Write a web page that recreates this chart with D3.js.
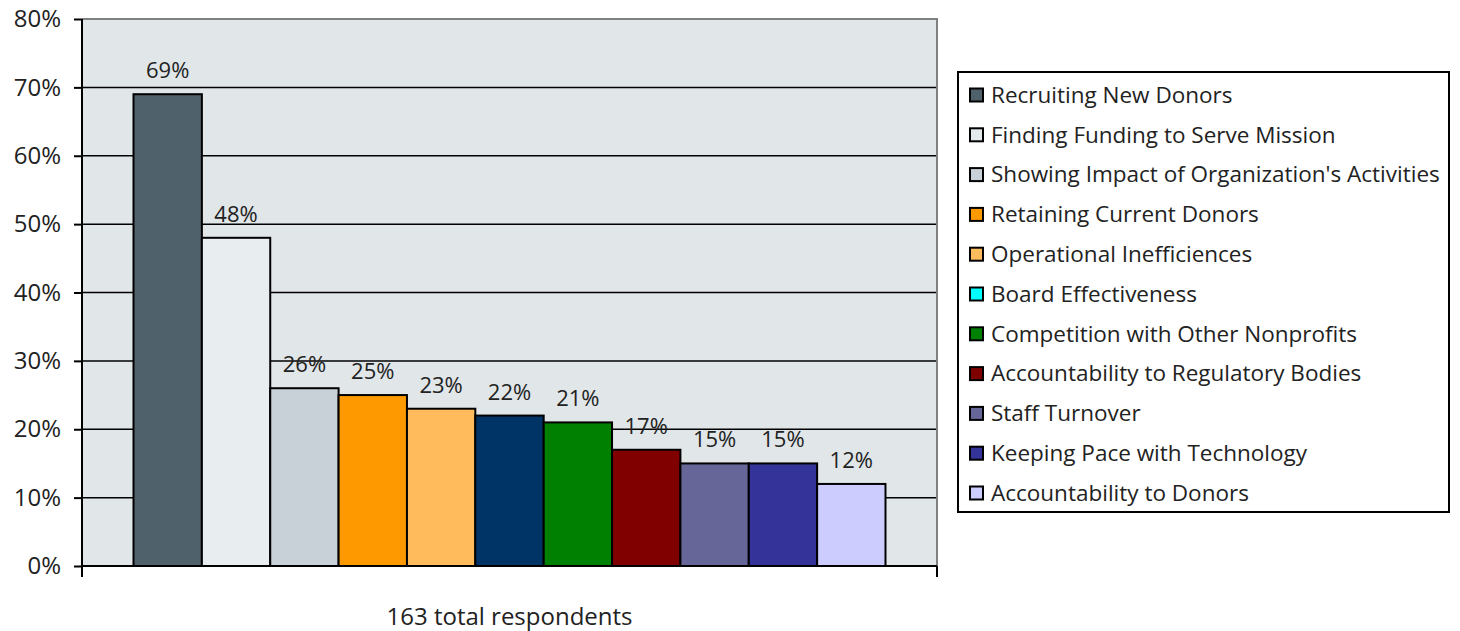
<!DOCTYPE html>
<html>
<head>
<meta charset="utf-8">
<script src="https://cdn.jsdelivr.net/npm/d3@7"></script>
<style>
  html, body { margin: 0; padding: 0; background: #ffffff; }
  svg { display: block; }
  text { font-family: "Open Sans", "Noto Sans", sans-serif; fill: #222; }
</style>
</head>
<body>
<svg id="chart" width="1460" height="631"></svg>
<script>
// Survey: biggest challenges reported by nonprofits
const category = "163 total respondents";
const challenges = [
  "Recruiting New Donors",
  "Finding Funding to Serve Mission",
  "Showing Impact of Organization's Activities",
  "Retaining Current Donors",
  "Operational Inefficiences",
  "Board Effectiveness",
  "Competition with Other Nonprofits",
  "Accountability to Regulatory Bodies",
  "Staff Turnover",
  "Keeping Pace with Technology",
  "Accountability to Donors"
];
const shares = [69, 48, 26, 25, 23, 22, 21, 17, 15, 15, 12];
const yTicks = [0, 10, 20, 30, 40, 50, 60, 70, 80];
const barColors = ["#4f616b", "#e8edf0", "#c9d1d8", "#ff9900", "#ffbb5c", "#003366",
                   "#008000", "#800000", "#666699", "#333399", "#ccccff"];
const legendColors = ["#4f616b", "#e4e9ec", "#c9d1d8", "#ff9900", "#ffbb5c", "#00ffff",
                      "#008000", "#800000", "#666699", "#333399", "#ccccff"];

const svg = d3.select("#chart");
const plot = { left: 82, right: 937, top: 19, bottom: 566 };
const font = "'Open Sans', 'Noto Sans', sans-serif";

const y = d3.scaleLinear().domain([0, 80]).range([plot.bottom, plot.top]);
const x0 = d3.scaleBand().domain([category]).range([plot.left, plot.right])
  .paddingInner(0).paddingOuter(0.0685);
const x1 = d3.scaleBand().domain(challenges).range([0, x0.bandwidth()]).padding(0);

// plot background
svg.append("rect")
  .attr("x", plot.left).attr("y", plot.top)
  .attr("width", plot.right - plot.left).attr("height", plot.bottom - plot.top)
  .attr("fill", "#e1e6e9");

// horizontal gridlines
svg.append("g").selectAll("line")
  .data(yTicks.filter(t => t > 0 && t < 80))
  .join("line")
  .attr("x1", plot.left).attr("x2", plot.right)
  .attr("y1", d => y(d)).attr("y2", d => y(d))
  .attr("stroke", "#000").attr("stroke-width", 1.5);

// top and right frame
svg.append("path")
  .attr("d", `M${plot.left},${y(80)}H${plot.right}V${plot.bottom}`)
  .attr("fill", "none").attr("stroke", "#808080").attr("stroke-width", 2);

// bars
const group = svg.append("g").attr("transform", `translate(${x0(category)},0)`);
group.selectAll("rect")
  .data(challenges.map((c, i) => ({ c, v: shares[i], i })))
  .join("rect")
  .attr("x", d => x1(d.c))
  .attr("y", d => y(d.v))
  .attr("width", x1.bandwidth())
  .attr("height", d => y(0) - y(d.v))
  .attr("fill", d => barColors[d.i])
  .attr("stroke", "#000").attr("stroke-width", 2);

// value labels
group.selectAll("text")
  .data(challenges.map((c, i) => ({ c, v: shares[i] })))
  .join("text")
  .attr("x", d => x1(d.c) + x1.bandwidth() / 2)
  .attr("y", d => y(d.v) - 16)
  .attr("text-anchor", "middle")
  .style("font-size", "22px")
  .text(d => d.v + "%");

// y axis
const yAxis = svg.append("g")
  .attr("transform", `translate(${plot.left},0)`)
  .call(d3.axisLeft(y).tickValues(yTicks).tickFormat(d => d + "%").tickSize(8).tickPadding(13));
yAxis.select(".domain").attr("stroke", "#000").attr("stroke-width", 2)
  .attr("d", `M0,${y(80)}V${plot.bottom + 11}`);
yAxis.selectAll(".tick line").attr("stroke", "#000").attr("stroke-width", 2);
yAxis.selectAll(".tick text").style("font-size", "24px").attr("fill", "#222")
  .style("font-family", font);

// x axis
const xAxis = svg.append("g")
  .attr("transform", `translate(0,${plot.bottom})`)
  .call(d3.axisBottom(x0).tickSize(0).tickPadding(42));
xAxis.select(".domain").attr("stroke", "#000").attr("stroke-width", 2)
  .attr("d", `M${plot.left},0H${plot.right}`);
xAxis.selectAll(".tick text").style("font-size", "24px").attr("fill", "#222")
  .style("font-family", font);
xAxis.selectAll(".edge")
  .data([plot.left, plot.right])
  .join("line").attr("class", "edge")
  .attr("x1", d => d).attr("x2", d => d)
  .attr("y1", 0).attr("y2", 11)
  .attr("stroke", "#000").attr("stroke-width", 2);

// legend
const legend = svg.append("g").attr("transform", "translate(958,72)");
legend.append("rect")
  .attr("width", 491).attr("height", 440)
  .attr("fill", "#fff").attr("stroke", "#000").attr("stroke-width", 2);
const items = legend.selectAll("g.item")
  .data(challenges.map((c, i) => ({ c, i })))
  .join("g").attr("class", "item")
  .attr("transform", d => `translate(11,${23 + d.i * 39.8})`);
items.append("rect")
  .attr("x", 1).attr("y", -6.5).attr("width", 13).attr("height", 13)
  .attr("fill", d => legendColors[d.i])
  .attr("stroke", "#000").attr("stroke-width", 2);
items.append("text")
  .attr("x", 22).attr("y", 0).attr("dy", "0.35em")
  .style("font-size", "22.5px")
  .text(d => d.c);
</script>
</body>
</html>
